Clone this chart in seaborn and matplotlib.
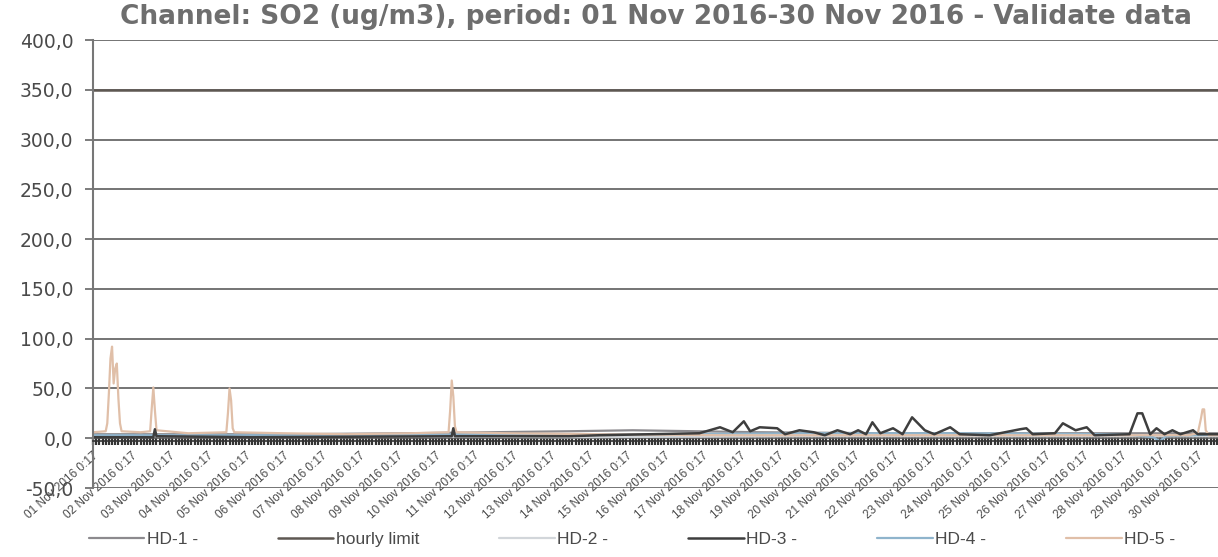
import pandas as pd
import numpy as np
import matplotlib
matplotlib.use('Agg')
import matplotlib.pyplot as plt
import matplotlib.dates as mdates
import seaborn as sns

# ---- data (hours since 01 Nov 2016 00:00, values in ug/m3) ----
hd1_hours = [0, 60, 120, 200, 250, 300, 340, 380, 420, 500, 600, 709]
hd1_vals = [4, 4, 4, 5, 6, 7, 8, 7, 6, 5, 5, 5]

limit_hours = [0, 709]
limit_vals = [350, 350]

hd2_hours = [0, 150, 300, 450, 600, 709]
hd2_vals = [2, 2, 1, 2, 2, 2]

hd3_hours = [0, 38, 39, 40, 100, 226, 227, 228, 300, 319, 382, 395, 403, 410, 414,
             420, 431, 436, 445, 454, 461, 469, 477, 482, 487, 491, 496, 504, 510,
             516, 524, 530, 540, 546, 565, 584, 588, 592, 606, 611, 619, 626, 631,
             653, 658, 661, 666, 670, 675, 680, 685, 693, 696, 709]
hd3_vals = [1, 1, 9, 2, 1, 2, 10, 2, 2, 3, 5, 11, 6, 17, 7,
            11, 10, 4, 8, 6, 3, 8, 4, 8, 4, 16, 5, 10, 4,
            21, 8, 4, 11, 4, 3, 9, 10, 4, 5, 15, 8, 11, 3,
            4, 25, 25, 4, 10, 4, 8, 4, 8, 4, 4]

hd4_hours = [0, 150, 250, 350, 450, 550, 650, 668, 672, 676, 709]
hd4_vals = [3, 3, 4, 4, 5, 5, 4, 1, -3, 2, 4]

hd5_hours = [0, 8, 9, 10, 11, 12, 13, 14, 15, 16, 17, 18, 30, 36, 37, 38, 39, 40,
             60, 84, 85, 86, 87, 88, 89, 120, 160, 200, 224, 225, 226, 227, 228,
             229, 260, 320, 400, 500, 600, 690, 696, 698, 699, 700, 701, 703, 709]
hd5_vals = [6, 7, 15, 45, 80, 92, 55, 70, 75, 40, 15, 7, 6, 7, 30, 51, 28, 8,
            5, 6, 25, 50, 38, 10, 6, 5, 4, 5, 6, 28, 58, 42, 12,
            6, 5, 4, 3, 3, 3, 3, 5, 20, 29, 29, 8, 3, 3]

days = list(range(1, 31))
day_labels = [f"{d:02d} Nov 2016 0:17" for d in days]
y_ticks = [-50, 0, 50, 100, 150, 200, 250, 300, 350, 400]

series = [
    ("hourly limit", limit_hours, limit_vals, "#5e5852", 1.8),
    ("HD-1 -", hd1_hours, hd1_vals, "#8c8a8e", 1.6),
    ("HD-2 -", hd2_hours, hd2_vals, "#d2d6da", 1.6),
    ("HD-4 -", hd4_hours, hd4_vals, "#8fb4cc", 1.6),
    ("HD-5 -", hd5_hours, hd5_vals, "#e0bfa8", 1.6),
    ("HD-3 -", hd3_hours, hd3_vals, "#3e3e3e", 1.8),
]
legend_order = ["HD-1 -", "hourly limit", "HD-2 -", "HD-3 -", "HD-4 -", "HD-5 -"]

start = pd.Timestamp("2016-11-01 00:00")

sns.set_style("white")
plt.rcParams['font.family'] = ['DejaVu Sans']

fig = plt.figure(figsize=(12.18, 5.57), dpi=100)
ax = fig.add_axes([93 / 1218, 1 - 488 / 557, 1 - 93 / 1218, (488 - 40) / 557])

handles = {}
for name, hrs, vals, col, lw in series:
    df = pd.DataFrame({"time": start + pd.to_timedelta(hrs, unit="h"), "value": vals})
    sns.lineplot(data=df, x="time", y="value", ax=ax, color=col, linewidth=lw,
                 estimator=None, sort=False)
    handles[name] = ax.lines[-1]

ax.set_xlim(start, start + pd.Timedelta(days=29.53))
ax.set_ylim(-50, 400)
ax.set_yticks(y_ticks)
ax.set_yticklabels([f"{v:.1f}".replace(".", ",") for v in y_ticks],
                   fontsize=13.5, color="#4a4a4a")
ax.yaxis.grid(True, color="#5c5c5c", linewidth=1.2)
ax.set_axisbelow(True)
ax.set_xlabel("")
ax.set_ylabel("")

ax.set_xticks([start + pd.Timedelta(days=d - 1) for d in days])
ax.set_xticklabels(day_labels)
ax.xaxis.set_minor_locator(mdates.HourLocator(byhour=range(0, 24, 2)))

for s in ["top", "right"]:
    ax.spines[s].set_visible(False)
ax.spines["left"].set_color("#777777")
ax.spines["left"].set_linewidth(1.5)
ax.spines["bottom"].set_position(("data", -3))
ax.spines["bottom"].set_color("#333333")
ax.spines["bottom"].set_linewidth(1.2)

ax.tick_params(axis="y", which="major", left=True, direction="out", length=6,
               width=1.2, color="#666666", pad=8)
ax.tick_params(axis="x", which="both", bottom=True, direction="inout",
               length=6, width=1.6, color="#333333")
ax.tick_params(axis="x", which="major", pad=3)

for lab in ax.get_xticklabels():
    lab.set_rotation(42)
    lab.set_rotation_mode("anchor")
    lab.set_ha("right")
    lab.set_va("top")
    lab.set_fontsize(8.5)
    lab.set_color("#4a4a4a")
    lab.set_family("Liberation Sans")

fig.text(656 / 1218, 1 - 24 / 557, "Channel: SO2 (ug/m3), period: 01 Nov 2016-30 Nov 2016 - Validate data",
         ha="center", va="baseline", fontsize=19, fontweight="bold", color="#6e6e6e")

fig.legend([handles[n] for n in legend_order], legend_order,
           loc="center left", bbox_to_anchor=(80 / 1218, 1 - 539 / 557),
           ncol=6, frameon=False, handlelength=3.2,
           handletextpad=0.15, columnspacing=4.6, borderpad=0,
           prop={"family": "Liberation Sans", "size": 12.5},
           labelcolor="#4a4a4a")

fig.savefig("out.png", dpi=100)
